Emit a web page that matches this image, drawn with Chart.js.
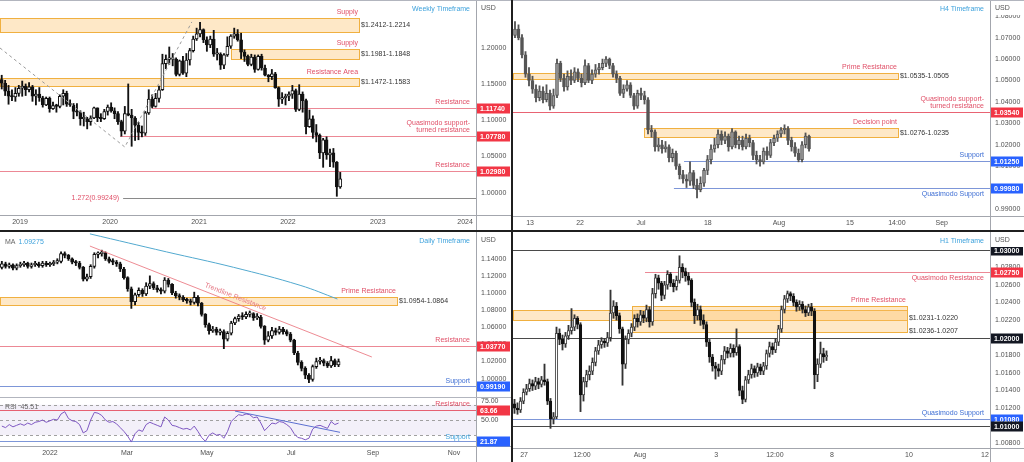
<!DOCTYPE html>
<html>
<head>
<meta charset="utf-8">
<title>EUR/USD - weekly, H4, daily, H1</title>
<script src="https://cdn.jsdelivr.net/npm/chart.js@4.4.1/dist/chart.umd.min.js"></script>
<style>
  html, body { margin: 0; padding: 0; background: #fff; }
  #board { position: relative; width: 1024px; height: 462px; overflow: hidden; background: #fff; }
  .pane { position: absolute; }
  .pane canvas { display: block; }
  .bar { position: absolute; background: #1f1f1f; }
  .rule { position: absolute; background: #b2b5be; }
</style>
</head>
<body>
<div id="board">
  <div class="pane" style="left:0;top:0"><canvas id="weekly" width="511" height="230"></canvas></div>
  <div class="pane" style="left:513px;top:0"><canvas id="h4" width="511" height="230"></canvas></div>
  <div class="pane" style="left:0;top:232px"><canvas id="daily" width="511" height="165"></canvas></div>
  <div class="pane" style="left:0;top:397px"><canvas id="rsi" width="511" height="65"></canvas></div>
  <div class="pane" style="left:513px;top:232px"><canvas id="h1" width="511" height="230"></canvas></div>
  <div class="rule" style="left:0;top:0;width:1024px;height:1px"></div>
  <div class="rule" style="left:0;top:397px;width:511px;height:1px"></div>
  <div class="bar" style="left:511px;top:0;width:2px;height:462px"></div>
  <div class="bar" style="left:0;top:230px;width:1024px;height:2px"></div>
</div>
<script>
// ---------- Weekly (two-week candles, Oct 2018 - Aug 2022) ----------
const weeklyFirstOpen = 1.156;
const weeklyClose = [
  1.151,1.140,1.133,1.132,1.137,1.144,1.147,1.142,1.146,1.133,
  1.136,1.131,1.121,1.130,1.116,1.120,1.119,1.133,1.137,1.122,
  1.121,1.112,1.111,1.102,1.102,1.098,1.103,1.117,1.103,1.102,
  1.112,1.118,1.113,1.109,1.098,1.085,1.109,1.107,1.103,1.093,
  1.083,1.082,1.110,1.129,1.119,1.130,1.142,1.178,1.184,1.184,
  1.184,1.163,1.182,1.165,1.183,1.196,1.212,1.219,1.225,1.211,
  1.204,1.212,1.191,1.191,1.176,1.190,1.202,1.216,1.219,1.211,
  1.194,1.188,1.177,1.187,1.170,1.188,1.172,1.162,1.160,1.164,
  1.145,1.129,1.131,1.133,1.136,1.141,1.115,1.136,1.127,1.091,
  1.102,1.083,1.079,1.055,1.073,1.052,1.055,1.042,1.008,1.019];
const weeklyHigh = [
  1.162,1.155,1.148,1.142,1.145,1.148,1.154,1.150,1.152,1.148,
  1.142,1.145,1.133,1.132,1.132,1.125,1.122,1.135,1.142,1.140,
  1.128,1.123,1.123,1.113,1.111,1.104,1.106,1.118,1.117,1.109,
  1.115,1.121,1.124,1.117,1.112,1.100,1.119,1.150,1.115,1.105,
  1.097,1.092,1.112,1.142,1.135,1.137,1.147,1.191,1.190,1.201,
  1.192,1.186,1.183,1.188,1.192,1.199,1.216,1.227,1.235,1.226,
  1.215,1.216,1.224,1.199,1.193,1.192,1.215,1.218,1.227,1.225,
  1.220,1.197,1.190,1.191,1.190,1.190,1.191,1.176,1.163,1.170,
  1.166,1.146,1.138,1.136,1.139,1.148,1.143,1.149,1.139,1.129,
  1.114,1.106,1.094,1.081,1.075,1.077,1.060,1.061,1.043,1.028];
const weeklyLow = [
  1.143,1.134,1.122,1.127,1.126,1.133,1.133,1.134,1.139,1.126,
  1.121,1.126,1.118,1.120,1.111,1.115,1.111,1.117,1.121,1.119,
  1.119,1.102,1.106,1.093,1.092,1.088,1.093,1.102,1.098,1.098,
  1.101,1.107,1.111,1.102,1.094,1.078,1.081,1.106,1.064,1.072,
  1.073,1.077,1.079,1.108,1.117,1.118,1.125,1.141,1.171,1.177,
  1.175,1.161,1.161,1.163,1.160,1.176,1.194,1.210,1.215,1.207,
  1.195,1.200,1.188,1.183,1.170,1.171,1.188,1.199,1.213,1.209,
  1.185,1.181,1.175,1.175,1.166,1.169,1.169,1.161,1.153,1.156,
  1.144,1.119,1.123,1.121,1.127,1.130,1.112,1.113,1.111,1.081,
  1.090,1.075,1.070,1.047,1.035,1.046,1.036,1.035,0.995,1.006];
const weeklyTickPos = [5.35, 31.7, 57.7, 83.7, 110.0, 135.5];
const weeklyTickText = ['2019', '2020', '2021', '2022', '2023', '2024'];
const weeklyPriceTicks = [1.00, 1.05, 1.10, 1.15, 1.20];
const weeklyZones = [[1.2412, 1.2214], [1.1981, 1.1848], [1.1583, 1.1472]];
const weeklyLevels = [1.1174, 1.0778, 1.0298, 0.99249];
const weeklySwingIdx = [-0.5, 36.0, 55.6];
const weeklySwingVal = [1.1996, 1.0630, 1.2355];

// ---------- H4 (half-day candles, Jun 9 - Aug 8 2022) ----------
const h4FirstOpen = 1.0710;
const h4Close = [
  1.0740,1.0700,1.0620,1.0530,1.0500,1.0460,1.0420,1.0450,1.0410,1.0440,
  1.0380,1.0430,1.0580,1.0510,1.0470,1.0520,1.0500,1.0540,1.0510,1.0490,
  1.0570,1.0500,1.0530,1.0550,1.0560,1.0580,1.0600,1.0570,1.0530,1.0510,
  1.0440,1.0460,1.0480,1.0430,1.0380,1.0440,1.0430,1.0410,1.0270,1.0260,
  1.0190,1.0200,1.0180,1.0190,1.0140,1.0160,1.0100,1.0060,1.0040,1.0030,
  1.0070,1.0010,0.9990,1.0020,1.0080,1.0130,1.0180,1.0200,1.0250,1.0220,
  1.0240,1.0190,1.0260,1.0200,1.0220,1.0190,1.0230,1.0210,1.0150,1.0130,
  1.0120,1.0170,1.0150,1.0210,1.0230,1.0250,1.0270,1.0275,1.0220,1.0190,
  1.0160,1.0130,1.0200,1.0240,1.0180];
const h4High = [
  1.0775,1.0760,1.0715,1.0635,1.0560,1.0520,1.0480,1.0475,1.0470,1.0480,
  1.0455,1.0460,1.0600,1.0590,1.0530,1.0545,1.0550,1.0560,1.0555,1.0530,
  1.0596,1.0580,1.0550,1.0575,1.0580,1.0600,1.0612,1.0605,1.0580,1.0545,
  1.0520,1.0480,1.0500,1.0490,1.0440,1.0455,1.0465,1.0450,1.0420,1.0290,
  1.0270,1.0230,1.0220,1.0215,1.0200,1.0180,1.0170,1.0110,1.0080,1.0060,
  1.0120,1.0080,1.0040,1.0050,1.0090,1.0150,1.0200,1.0230,1.0270,1.0265,
  1.0260,1.0250,1.0275,1.0265,1.0240,1.0240,1.0250,1.0245,1.0220,1.0170,
  1.0150,1.0185,1.0190,1.0225,1.0245,1.0265,1.0280,1.0293,1.0285,1.0235,
  1.0210,1.0180,1.0215,1.0255,1.0245];
const h4Low = [
  1.0700,1.0690,1.0605,1.0515,1.0475,1.0440,1.0400,1.0405,1.0395,1.0400,
  1.0362,1.0370,1.0420,1.0495,1.0450,1.0455,1.0480,1.0490,1.0495,1.0470,
  1.0480,1.0490,1.0485,1.0515,1.0530,1.0550,1.0565,1.0555,1.0515,1.0490,
  1.0430,1.0420,1.0450,1.0420,1.0365,1.0370,1.0410,1.0390,1.0250,1.0235,
  1.0170,1.0170,1.0160,1.0165,1.0120,1.0120,1.0085,1.0040,1.0020,1.0000,
  1.0010,0.9995,0.9952,0.9980,1.0005,1.0060,1.0110,1.0165,1.0185,1.0200,
  1.0205,1.0170,1.0180,1.0185,1.0180,1.0175,1.0180,1.0190,1.0130,1.0110,
  1.0100,1.0110,1.0130,1.0140,1.0195,1.0215,1.0235,1.0250,1.0200,1.0170,
  1.0145,1.0120,1.0120,1.0185,1.0170];
const h4TickPos = [4.3, 18.6, 36.0, 55.1, 75.4, 95.7, 109.1, 121.9];
const h4TickText = ['13', '22', 'Jul', '18', 'Aug', '15', '14:00', 'Sep'];
const h4PriceTicks = [0.99, 1.00, 1.01, 1.02, 1.03, 1.04, 1.05, 1.06, 1.07, 1.08];
const h4Zones = [[1.0535, 1.0505], [1.0276, 1.0235]];
const h4Levels = [1.0354, 1.0125, 0.9998];

// ---------- Daily (two-day candles, Dec 2021 - Aug 2022) ----------
const dailyFirstOpen = 1.130;
const dailyClose = [
  1.134,1.131,1.133,1.129,1.132,1.133,1.135,1.131,1.133,1.134,
  1.132,1.135,1.133,1.134,1.136,1.137,1.146,1.144,1.140,1.136,
  1.135,1.130,1.116,1.119,1.131,1.145,1.146,1.147,1.140,1.137,
  1.136,1.134,1.128,1.118,1.105,1.090,1.098,1.103,1.099,1.108,
  1.111,1.106,1.104,1.102,1.115,1.110,1.100,1.097,1.095,1.092,
  1.091,1.089,1.095,1.088,1.075,1.063,1.056,1.058,1.054,1.055,
  1.046,1.053,1.065,1.070,1.073,1.072,1.075,1.076,1.071,1.072,
  1.061,1.045,1.050,1.056,1.054,1.058,1.055,1.052,1.045,1.030,
  1.019,1.012,1.004,0.999,1.014,1.020,1.021,1.018,1.015,1.021,
  1.016,1.020];
const dailyHigh = [
  1.137,1.136,1.135,1.134,1.134,1.136,1.137,1.136,1.135,1.137,
  1.136,1.137,1.137,1.136,1.138,1.140,1.148,1.148,1.145,1.141,
  1.138,1.137,1.131,1.122,1.133,1.147,1.148,1.150,1.148,1.142,
  1.140,1.138,1.136,1.130,1.119,1.107,1.100,1.106,1.105,1.112,
  1.120,1.113,1.109,1.106,1.118,1.117,1.111,1.102,1.099,1.097,
  1.094,1.093,1.101,1.097,1.089,1.076,1.065,1.061,1.060,1.058,
  1.057,1.055,1.067,1.072,1.075,1.077,1.078,1.079,1.077,1.076,
  1.074,1.062,1.055,1.060,1.059,1.061,1.060,1.057,1.054,1.046,
  1.032,1.021,1.014,1.006,1.016,1.024,1.025,1.023,1.020,1.026,
  1.023,1.023];
const dailyLow = [
  1.128,1.129,1.129,1.127,1.127,1.130,1.131,1.129,1.129,1.131,
  1.130,1.130,1.131,1.131,1.132,1.134,1.135,1.141,1.138,1.134,
  1.132,1.128,1.114,1.114,1.117,1.129,1.141,1.143,1.138,1.135,
  1.133,1.131,1.125,1.116,1.102,1.082,1.086,1.096,1.096,1.097,
  1.105,1.104,1.101,1.099,1.100,1.107,1.098,1.094,1.092,1.090,
  1.088,1.086,1.087,1.085,1.073,1.060,1.052,1.054,1.051,1.051,
  1.035,1.044,1.051,1.063,1.067,1.069,1.070,1.072,1.068,1.069,
  1.059,1.040,1.043,1.047,1.051,1.052,1.052,1.050,1.043,1.028,
  1.016,1.009,1.000,0.9952,0.997,1.012,1.017,1.015,1.013,1.013,
  1.014,1.014];
const dailyRsi = [
  42,40,44,41,43,45,43,46,44,47,
  48,50,47,49,51,50,58,61,52,49,
  48,44,33,36,50,60,59,56,50,47,
  48,45,40,35,29,21,32,37,35,44,
  47,45,43,41,54,50,43,42,40,38,
  39,37,42,35,27,22,30,33,30,31,
  26,35,48,53,57,56,58,57,53,54,
  46,36,41,46,45,48,47,44,40,32,
  27,26,24,26,38,42,43,41,39,48,
  44,46];
const dailyMaIdx = [23.8, 44.5, 62.6, 80.6, 90.7];
const dailyMaVal = [1.169, 1.148, 1.130, 1.109, 1.093];
const dailyTrendIdx = [23.8, 100.0];
const dailyTrendVal = [1.1548, 1.0253];
const rsiTrendIdx = [63.0, 91.4];
const rsiTrendVal = [61.8, 33.8];
const dailyTickPos = [13.0, 33.8, 55.4, 78.2, 100.3, 122.2];
const dailyTickText = ['2022', 'Mar', 'May', 'Jul', 'Sep', 'Nov'];
const dailyPriceTicks = [1.00, 1.02, 1.04, 1.06, 1.08, 1.10, 1.12, 1.14];
const rsiTicks = [50, 75];
const dailyZone = [1.0954, 1.0864];
const dailyLevels = [1.0377, 0.9919];
const rsiLevels = [63.66, 21.87];
const rsiBands = [70, 50, 30];

// ---------- H1 (Jul 27 - Aug 8 2022, compressed) ----------
const h1FirstOpen = 1.0125;
const h1Close = [
  1.0120,1.0118,1.0128,1.0138,1.0142,1.0148,1.0145,1.0150,1.0147,1.0152,
  1.0150,1.0128,1.0108,1.0110,1.0205,1.0198,1.0193,1.0202,1.0208,1.0212,
  1.0222,1.0215,1.0135,1.0150,1.0158,1.0162,1.0172,1.0185,1.0192,1.0196,
  1.0194,1.0200,1.0228,1.0236,1.0225,1.0210,1.0170,1.0198,1.0205,1.0212,
  1.0222,1.0218,1.0226,1.0222,1.0232,1.0218,1.0250,1.0268,1.0262,1.0248,
  1.0260,1.0272,1.0262,1.0258,1.0265,1.0280,1.0275,1.0270,1.0265,1.0240,
  1.0225,1.0232,1.0220,1.0215,1.0195,1.0178,1.0168,1.0165,1.0162,1.0175,
  1.0185,1.0182,1.0188,1.0183,1.0190,1.0140,1.0130,1.0152,1.0158,1.0165,
  1.0160,1.0167,1.0162,1.0168,1.0182,1.0190,1.0186,1.0195,1.0210,1.0232,
  1.0244,1.0250,1.0247,1.0240,1.0235,1.0238,1.0232,1.0228,1.0235,1.0230,
  1.0158,1.0170,1.0182,1.0178,1.0180];
const h1High = [
  1.0130,1.0126,1.0132,1.0142,1.0147,1.0153,1.0152,1.0155,1.0154,1.0156,
  1.0170,1.0153,1.0131,1.0115,1.0212,1.0210,1.0203,1.0206,1.0214,1.0233,
  1.0226,1.0224,1.0217,1.0155,1.0163,1.0168,1.0177,1.0189,1.0197,1.0200,
  1.0199,1.0206,1.0254,1.0242,1.0240,1.0228,1.0212,1.0202,1.0209,1.0216,
  1.0226,1.0227,1.0231,1.0230,1.0237,1.0235,1.0256,1.0272,1.0271,1.0264,
  1.0264,1.0276,1.0274,1.0266,1.0270,1.0293,1.0284,1.0279,1.0274,1.0267,
  1.0244,1.0238,1.0236,1.0226,1.0218,1.0198,1.0181,1.0172,1.0170,1.0180,
  1.0190,1.0189,1.0193,1.0192,1.0210,1.0192,1.0145,1.0156,1.0163,1.0170,
  1.0168,1.0171,1.0170,1.0172,1.0186,1.0195,1.0194,1.0199,1.0214,1.0236,
  1.0248,1.0253,1.0252,1.0250,1.0243,1.0242,1.0241,1.0236,1.0238,1.0239,
  1.0233,1.0176,1.0195,1.0188,1.0185];
const h1Low = [
  1.0114,1.0113,1.0115,1.0125,1.0135,1.0139,1.0140,1.0141,1.0142,1.0144,
  1.0146,1.0124,1.0097,1.0102,1.0108,1.0192,1.0186,1.0189,1.0198,1.0204,
  1.0208,1.0210,1.0116,1.0128,1.0144,1.0152,1.0158,1.0168,1.0181,1.0188,
  1.0189,1.0190,1.0196,1.0222,1.0220,1.0205,1.0146,1.0165,1.0193,1.0201,
  1.0208,1.0212,1.0214,1.0217,1.0218,1.0212,1.0214,1.0245,1.0255,1.0242,
  1.0244,1.0255,1.0258,1.0252,1.0254,1.0262,1.0268,1.0264,1.0260,1.0235,
  1.0216,1.0220,1.0214,1.0210,1.0190,1.0172,1.0162,1.0153,1.0156,1.0158,
  1.0170,1.0177,1.0178,1.0178,1.0180,1.0134,1.0125,1.0127,1.0148,1.0154,
  1.0155,1.0156,1.0158,1.0158,1.0164,1.0178,1.0181,1.0183,1.0191,1.0206,
  1.0228,1.0240,1.0242,1.0236,1.0230,1.0231,1.0228,1.0224,1.0225,1.0225,
  1.0142,1.0150,1.0166,1.0172,1.0174];
const h1TickPos = [3.2, 22.5, 41.8, 67.2, 86.8, 105.8, 131.5, 156.8];
const h1TickText = ['27', '12:00', 'Aug', '3', '12:00', '8', '10', '12'];
const h1PriceTicks = [1.008, 1.010, 1.012, 1.014, 1.016, 1.018, 1.020, 1.022, 1.024, 1.026, 1.028, 1.030];
const h1Zones = [[1.0231, 1.0220], [1.0236, 1.0207]];
const h1Levels = [1.0300, 1.0275, 1.0200, 1.0108, 1.0100];

// ---------- look ----------
const FONT = '"Liberation Sans", Arial, sans-serif';
const RED_TEXT = '#e04f67';
const RED_LINE = 'rgba(226,72,92,0.65)';
const BLUE_TEXT = '#3f6fd4';
const BLUE_LINE = '#7d96d8';
const CAPTION = '#3ea2dc';
const TAG_RED = '#f23645';
const TAG_BLUE = '#2962ff';
const TAG_BLACK = '#131722';
const DARK_LINE = '#4a4a4a';

// Overlay plugin: zones, horizontal levels, labels and price tags
const overlayPlugin = {
  id: 'overlays',
  beforeDatasetsDraw(chart, args, o) {
    const { ctx, chartArea: a, scales: { x, y } } = chart;
    const xp = v => (v == null ? a.left : x.getPixelForValue(v));
    ctx.save();
    ctx.beginPath();
    ctx.rect(a.left, a.top, a.width, a.height);
    ctx.clip();
    (o.bands || []).forEach(b => {
      const y0 = y.getPixelForValue(b.hi), y1 = y.getPixelForValue(b.lo);
      ctx.fillStyle = b.color;
      ctx.fillRect(a.left, y0, a.width, y1 - y0);
    });
    (o.zones || []).forEach(z => {
      const x0 = xp(z.from), x1 = x.getPixelForValue(z.to);
      const y0 = Math.round(y.getPixelForValue(z.hi)), y1 = Math.round(y.getPixelForValue(z.lo));
      ctx.fillStyle = 'rgba(252,190,100,0.36)';
      ctx.fillRect(x0, y0, x1 - x0, y1 - y0);
      ctx.strokeStyle = '#f0b040';
      ctx.lineWidth = 1;
      ctx.strokeRect(Math.round(x0) + 0.5, y0 + 0.5, Math.round(x1 - x0), y1 - y0);
    });
    (o.levels || []).forEach(l => {
      const py = Math.round(y.getPixelForValue(l.value)) + 0.5;
      ctx.strokeStyle = l.color;
      ctx.lineWidth = 1;
      ctx.setLineDash(l.dash || []);
      ctx.beginPath();
      ctx.moveTo(xp(l.from), py);
      ctx.lineTo(a.right, py);
      ctx.stroke();
    });
    ctx.restore();
  },
  afterDraw(chart, args, o) {
    const { ctx, chartArea: a, scales: { x, y }, width: W } = chart;
    const H = chart.height;
    const xp = v => (v == null ? a.left : x.getPixelForValue(v));
    const text = (s, px, py, color, align, bold) => {
      ctx.font = (bold ? 'bold ' : '') + '7px ' + FONT;
      ctx.fillStyle = color;
      ctx.textAlign = align || 'left';
      ctx.textBaseline = 'middle';
      ctx.fillText(s, px, py);
    };
    ctx.save();

    // frame of the pane
    ctx.strokeStyle = '#a3a6ad';
    ctx.lineWidth = 1;
    ctx.beginPath();
    ctx.moveTo(Math.round(a.right) + 0.5, 0);
    ctx.lineTo(Math.round(a.right) + 0.5, H);
    if (o.timeLine) {
      ctx.moveTo(0, Math.round(a.bottom) + 0.5);
      ctx.lineTo(W, Math.round(a.bottom) + 0.5);
    }
    ctx.stroke();

    // zone captions
    (o.zones || []).forEach(z => {
      const x1 = x.getPixelForValue(z.to);
      const y0 = y.getPixelForValue(z.hi), y1 = y.getPixelForValue(z.lo);
      if (z.name) text(z.name, x1 - 1, y0 - 6, RED_TEXT, 'right');
      if (z.note) {
        const ny = z.noteAt != null ? y.getPixelForValue(z.noteAt) : (y0 + y1) / 2;
        text(z.note, x1 + 2, ny, '#333', 'left');
      }
    });

    // level captions and tags
    (o.levels || []).forEach(l => {
      const py = Math.round(y.getPixelForValue(l.value)) + 0.5;
      if (l.label) {
        const n = l.label.length;
        l.label.forEach((s, i) => {
          const off = l.dy < 0 ? l.dy - (n - 1 - i) * 7.5 : l.dy + i * 7.5;
          text(s, a.right - 6, py + off, l.textColor, 'right');
        });
      }
      if (l.leftText) text(l.leftText, xp(l.from) - 4, py, RED_TEXT, 'right');
      if (l.tag) {
        ctx.fillStyle = l.tag;
        ctx.fillRect(a.right + 1, py - 5, W - a.right - 2, 10);
        text(l.value.toFixed(o.digits), a.right + 4, py + 0.5, '#fff', 'left', true);
      }
    });

    // slanted caption along a trendline
    (o.slants || []).forEach(s => {
      const x0 = x.getPixelForValue(s.idx[0]), y0 = y.getPixelForValue(s.val[0]);
      const x1 = x.getPixelForValue(s.idx[1]), y1 = y.getPixelForValue(s.val[1]);
      const ang = Math.atan2(y1 - y0, x1 - x0);
      ctx.save();
      ctx.translate(x0 + (x1 - x0) * s.t, y0 + (y1 - y0) * s.t);
      ctx.rotate(ang);
      text(s.text, 0, s.dy, s.color, 'center');
      ctx.restore();
    });

    // currency header over the price axis
    if (o.unit) {
      ctx.fillStyle = '#fff';
      ctx.fillRect(a.right + 1, a.top + 1, W - a.right - 1, o.unitBox || 12);
      text(o.unit, a.right + 5, a.top + 8, '#555', 'left');
    }
    if (o.title) text(o.title, a.right - 6, a.top + 9, CAPTION, 'right');
    if (o.legend) {
      let lx = a.left + 5;
      o.legend.forEach(([s, c]) => {
        text(s, lx, a.top + 10, c, 'left');
        lx += ctx.measureText(s).width + 3;
      });
    }
    ctx.restore();
  }
};
Chart.register(overlayPlugin);

// candles as floating bars: one thin bar for the wick, one for the body
function candleSets(firstOpen, closes, highs, lows, look) {
  const wicks = [], bodies = [], fills = [], edges = [];
  let open = firstOpen;
  closes.forEach((close, i) => {
    const up = close >= open;
    wicks.push({ x: i, y: [Math.min(lows[i], open, close), Math.max(highs[i], open, close)] });
    bodies.push({ x: i, y: [open, close] });
    fills.push(up ? look.up : look.down);
    edges.push(up ? look.upEdge : look.down);
    open = close;
  });
  return [
    { type: 'bar', data: wicks, backgroundColor: look.wick, barThickness: 1.2, grouped: false, order: 3 },
    { type: 'bar', data: bodies, backgroundColor: fills, borderColor: edges, borderWidth: 1,
      borderSkipped: false, barThickness: look.width, minBarLength: 1.5, grouped: false, order: 2 }
  ];
}

function pathSet(idx, val, color, dash, smooth) {
  return {
    type: 'line', data: idx.map((v, i) => ({ x: v, y: val[i] })),
    borderColor: color, borderWidth: 1, borderDash: dash || [],
    pointRadius: 0, fill: false, tension: smooth ? 0.4 : 0, order: 1
  };
}

function priceAxis(min, max, ticks, digits, width) {
  return {
    type: 'linear', position: 'right', min, max, bounds: 'data',
    grid: { display: false, drawTicks: false }, border: { display: false },
    afterBuildTicks: s => { s.ticks = ticks.map(v => ({ value: v })); },
    afterFit: s => { s.width = width; s.paddingTop = 0; s.paddingBottom = 0; },
    ticks: { padding: 5, color: '#505050', font: { family: FONT, size: 7 }, callback: v => v.toFixed(digits) }
  };
}

function timeAxis(min, max, pos, labels, height) {
  return {
    type: 'linear', min, max, bounds: 'data', offset: false, display: height > 0,
    grid: { display: false, drawTicks: false }, border: { display: false },
    afterBuildTicks: s => { s.ticks = pos.map(v => ({ value: v })); },
    afterFit: s => { s.height = height; s.paddingLeft = 0; s.paddingRight = 0; },
    ticks: { autoSkip: false, maxRotation: 0, padding: 3, color: '#505050',
      font: { family: FONT, size: 7 }, callback: (v, i) => labels[i] }
  };
}

function makeChart(id, datasets, xAxis, yAxis, overlays) {
  return new Chart(document.getElementById(id), {
    type: 'bar',
    data: { datasets },
    options: {
      responsive: false, animation: false, devicePixelRatio: 1, events: [],
      layout: { padding: 0, autoPadding: false },
      plugins: { legend: { display: false }, tooltip: { enabled: false }, overlays },
      scales: { x: xAxis, y: yAxis }
    }
  });
}

const weeklyLook = { up: '#ffffff', upEdge: '#111', down: '#111', wick: '#111', width: 3.1 };
const dailyLook = { up: '#ffffff', upEdge: '#111', down: '#111', wick: '#111', width: 3.2 };

// Weekly
makeChart('weekly',
  [...candleSets(weeklyFirstOpen, weeklyClose, weeklyHigh, weeklyLow, weeklyLook),
   pathSet(weeklySwingIdx, weeklySwingVal, '#9a9a9a', [3, 3])],
  timeAxis(-0.5, 138.7, weeklyTickPos, weeklyTickText, 15),
  priceAxis(0.9692, 1.2658, weeklyPriceTicks, 5, 35),
  {
    timeLine: true, digits: 5, unit: 'USD', title: 'Weekly Timeframe',
    zones: [
      { hi: weeklyZones[0][0], lo: weeklyZones[0][1], from: null, to: 104.5, name: 'Supply', note: '$1.2412-1.2214' },
      { hi: weeklyZones[1][0], lo: weeklyZones[1][1], from: 67.0, to: 104.5, name: 'Supply', note: '$1.1981-1.1848' },
      { hi: weeklyZones[2][0], lo: weeklyZones[2][1], from: null, to: 104.5, name: 'Resistance Area', note: '$1.1472-1.1583' }
    ],
    levels: [
      { value: weeklyLevels[0], from: 43.9, color: RED_LINE, label: ['Resistance'], dy: -6, textColor: RED_TEXT, tag: TAG_RED },
      { value: weeklyLevels[1], from: 34.6, color: RED_LINE, label: ['Quasimodo support-', 'turned resistance'], dy: -6, textColor: RED_TEXT, tag: TAG_RED },
      { value: weeklyLevels[2], from: null, color: RED_LINE, label: ['Resistance'], dy: -6, textColor: RED_TEXT, tag: TAG_RED },
      { value: weeklyLevels[3], from: 35.5, color: '#8a8a8a', leftText: '1.272(0.99249)' }
    ]
  });

// H4
makeChart('h4',
  candleSets(h4FirstOpen, h4Close, h4High, h4Low,
    { up: '#9a9a9a', upEdge: '#555', down: '#555', wick: '#555', width: 3.0 }),
  timeAxis(-0.57, 135.7, h4TickPos, h4TickText, 14),
  priceAxis(0.9867, 1.0876, h4PriceTicks, 5, 34),
  {
    timeLine: true, digits: 5, unit: 'USD', unitBox: 14, title: 'H4 Timeframe',
    zones: [
      { hi: h4Zones[0][0], lo: h4Zones[0][1], from: null, to: 109.4, name: 'Prime Resistance', note: '$1.0535-1.0505' },
      { hi: h4Zones[1][0], lo: h4Zones[1][1], from: 36.9, to: 109.4, name: 'Decision point', note: '$1.0276-1.0235' }
    ],
    levels: [
      { value: h4Levels[0], from: null, color: 'rgba(226,60,80,0.8)', label: ['Quasimodo support-', 'turned resistance'], dy: -6, textColor: RED_TEXT, tag: TAG_RED },
      { value: h4Levels[1], from: 48.3, color: BLUE_LINE, label: ['Support'], dy: -6, textColor: BLUE_TEXT, tag: TAG_BLUE },
      { value: h4Levels[2], from: 45.4, color: BLUE_LINE, label: ['Quasimodo Support'], dy: 6, textColor: BLUE_TEXT, tag: TAG_BLUE }
    ]
  });

// Daily
makeChart('daily',
  [...candleSets(dailyFirstOpen, dailyClose, dailyHigh, dailyLow, dailyLook),
   pathSet(dailyMaIdx, dailyMaVal, '#52a9cf', null, true),
   pathSet(dailyTrendIdx, dailyTrendVal, 'rgba(232,110,120,0.8)')],
  timeAxis(-0.5, 128.15, dailyTickPos, dailyTickText, 0),
  priceAxis(0.9786, 1.1712, dailyPriceTicks, 5, 35),
  {
    digits: 5, unit: 'USD', title: 'Daily Timeframe',
    legend: [['MA', '#666'], ['1.09275', CAPTION]],
    zones: [
      { hi: dailyZone[0], lo: dailyZone[1], from: null, to: 106.8, name: 'Prime Resistance', note: '$1.0954-1.0864' }
    ],
    levels: [
      { value: dailyLevels[0], from: null, color: RED_LINE, label: ['Resistance'], dy: -6, textColor: RED_TEXT, tag: TAG_RED },
      { value: dailyLevels[1], from: null, color: BLUE_LINE, label: ['Support'], dy: -5, textColor: BLUE_TEXT, tag: TAG_BLUE }
    ],
    slants: [{ idx: dailyTrendIdx, val: dailyTrendVal, t: 0.508, dy: -6, text: 'Trendline Resistance', color: '#e57b87' }]
  });

// Daily RSI
makeChart('rsi',
  [pathSet(dailyRsi.map((v, i) => i), dailyRsi, '#7e57c2'),
   pathSet(rsiTrendIdx, rsiTrendVal, '#5b6fd0')],
  timeAxis(-0.5, 128.15, dailyTickPos, dailyTickText, 16),
  priceAxis(15.8, 80.3, rsiTicks, 2, 35),
  {
    timeLine: true, digits: 2,
    legend: [['RSI  45.51', '#666']],
    bands: [{ hi: rsiBands[0], lo: rsiBands[2], color: 'rgba(126,87,194,0.09)' }],
    levels: [
      { value: rsiBands[0], from: null, color: '#a0a0a0', dash: [3, 3] },
      { value: rsiBands[1], from: null, color: '#a0a0a0', dash: [3, 3] },
      { value: rsiBands[2], from: null, color: '#a0a0a0', dash: [3, 3] },
      { value: rsiLevels[0], from: null, color: 'rgba(226,60,80,0.8)', label: ['Resistance'], dy: -6, textColor: RED_TEXT, tag: TAG_RED },
      { value: rsiLevels[1], from: null, color: BLUE_LINE, label: ['Support'], dy: -4, textColor: CAPTION, tag: TAG_BLUE }
    ]
  });

// H1
makeChart('h1',
  candleSets(h1FirstOpen, h1Close, h1High, h1Low,
    { up: '#ffffff', upEdge: '#444', down: '#111', wick: '#333', width: 2.6 }),
  timeAxis(-0.5, 158.5, h1TickPos, h1TickText, 14),
  priceAxis(1.00747, 1.0320, h1PriceTicks, 5, 34),
  {
    timeLine: true, digits: 5, unit: 'USD', unitBox: 14, title: 'H1 Timeframe',
    zones: [
      { hi: h1Zones[0][0], lo: h1Zones[0][1], from: null, to: 130.8, note: '$1.0231-1.0220', noteAt: 1.0222 },
      { hi: h1Zones[1][0], lo: h1Zones[1][1], from: 39.2, to: 130.8, name: 'Prime Resistance', note: '$1.0236-1.0207', noteAt: 1.0207 }
    ],
    levels: [
      { value: h1Levels[0], from: null, color: DARK_LINE, tag: TAG_BLACK },
      { value: h1Levels[1], from: 43.5, color: RED_LINE, label: ['Quasimodo Resistance'], dy: 6, textColor: RED_TEXT, tag: TAG_RED },
      { value: h1Levels[2], from: null, color: DARK_LINE, tag: TAG_BLACK },
      { value: h1Levels[3], from: null, color: BLUE_LINE, label: ['Quasimodo Support'], dy: -6, textColor: BLUE_TEXT, tag: TAG_BLUE },
      { value: h1Levels[4], from: null, color: DARK_LINE, tag: TAG_BLACK }
    ]
  });
</script>
</body>
</html>
